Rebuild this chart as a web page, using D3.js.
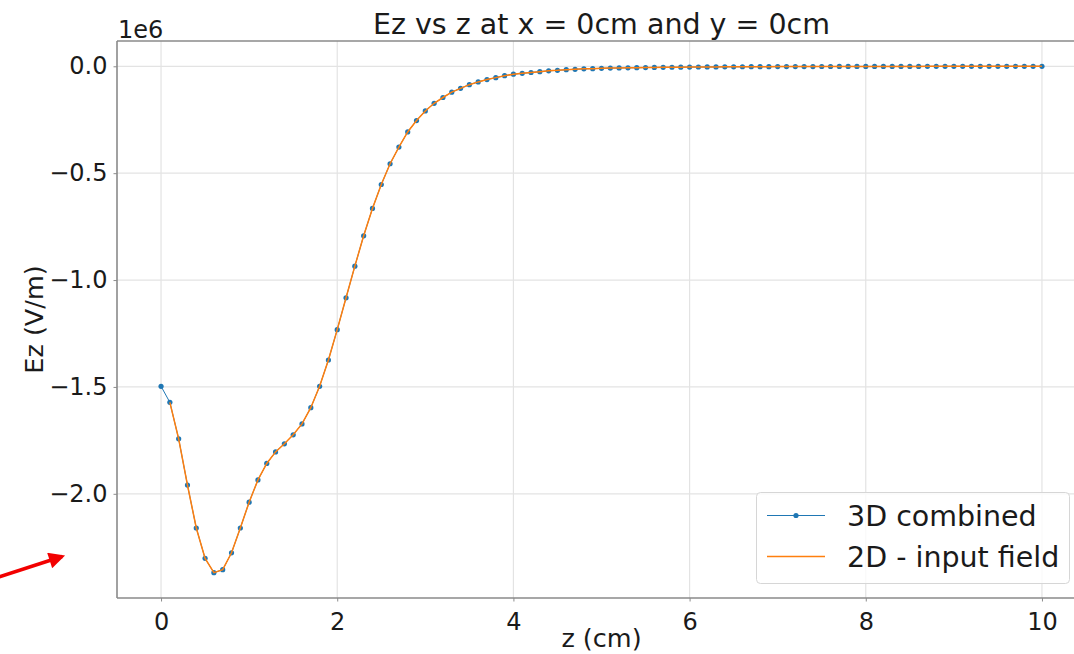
<!DOCTYPE html>
<html>
<head>
<meta charset="utf-8">
<script src="https://cdn.jsdelivr.net/npm/d3@7"></script>
<style>
  html, body { margin: 0; padding: 0; background: #fff; }
  svg { display: block; font-family: "DejaVu Sans", sans-serif; }
</style>
</head>
<body>
<svg id="chart" width="1074" height="654"></svg>
<script>
// Longitudinal field Ez along the axis (x = 0, y = 0); values in units of 1e6 V/m.
const zCombined = [
  0.0, 0.1, 0.2, 0.3, 0.4, 0.5, 0.6, 0.7, 0.8, 0.9,
  1.0, 1.1, 1.2, 1.3, 1.4, 1.5, 1.6, 1.7, 1.8, 1.9,
  2.0, 2.1, 2.2, 2.3, 2.4, 2.5, 2.6, 2.7, 2.8, 2.9,
  3.0, 3.1, 3.2, 3.3, 3.4, 3.5, 3.6, 3.7, 3.8, 3.9,
  4.0, 4.1, 4.2, 4.3, 4.4, 4.5, 4.6, 4.7, 4.8, 4.9,
  5.0, 5.1, 5.2, 5.3, 5.4, 5.5, 5.6, 5.7, 5.8, 5.9,
  6.0, 6.1, 6.2, 6.3, 6.4, 6.5, 6.6, 6.7, 6.8, 6.9,
  7.0, 7.1, 7.2, 7.3, 7.4, 7.5, 7.6, 7.7, 7.8, 7.9,
  8.0, 8.1, 8.2, 8.3, 8.4, 8.5, 8.6, 8.7, 8.8, 8.9,
  9.0, 9.1, 9.2, 9.3, 9.4, 9.5, 9.6, 9.7, 9.8, 9.9,
  10.0
];
const ezCombined = [
  -1.497, -1.572, -1.743, -1.959, -2.160, -2.302, -2.369, -2.355, -2.276, -2.160,
  -2.039, -1.935, -1.858, -1.804, -1.766, -1.724, -1.673, -1.597, -1.497, -1.374,
  -1.232, -1.083, -0.935, -0.793, -0.665, -0.553, -0.456, -0.378, -0.307, -0.254,
  -0.209, -0.173, -0.146, -0.121, -0.103, -0.086, -0.073, -0.062, -0.053, -0.044,
  -0.037, -0.033, -0.029, -0.025, -0.021, -0.019, -0.016, -0.014, -0.012, -0.011,
  -0.0093, -0.0085, -0.0078, -0.0071, -0.0065, -0.0059, -0.0054, -0.0049, -0.0045, -0.0041,
  -0.0037, -0.0034, -0.0031, -0.0028, -0.0026, -0.0024, -0.0022, -0.0020, -0.0018, -0.0016,
  -0.0015, -0.0014, -0.0013, -0.0012, -0.0011, -0.0010, -0.0009, -0.0008, -0.0008, -0.0007,
  -0.0006, -0.0006, -0.0005, -0.0005, -0.0004, -0.0004, -0.0004, -0.0003, -0.0003, -0.0003,
  -0.0002, -0.0002, -0.0002, -0.0002, -0.0002, -0.0002, -0.0001, -0.0001, -0.0001, -0.0001,
  -0.0001
];
const zInput = [
  0.1, 0.2, 0.3, 0.4, 0.5, 0.6, 0.7, 0.8, 0.9,
  1.0, 1.1, 1.2, 1.3, 1.4, 1.5, 1.6, 1.7, 1.8, 1.9,
  2.0, 2.1, 2.2, 2.3, 2.4, 2.5, 2.6, 2.7, 2.8, 2.9,
  3.0, 3.1, 3.2, 3.3, 3.4, 3.5, 3.6, 3.7, 3.8, 3.9,
  4.0, 4.1, 4.2, 4.3, 4.4, 4.5, 4.6, 4.7, 4.8, 4.9,
  5.0, 5.1, 5.2, 5.3, 5.4, 5.5, 5.6, 5.7, 5.8, 5.9,
  6.0, 6.1, 6.2, 6.3, 6.4, 6.5, 6.6, 6.7, 6.8, 6.9,
  7.0, 7.1, 7.2, 7.3, 7.4, 7.5, 7.6, 7.7, 7.8, 7.9,
  8.0, 8.1, 8.2, 8.3, 8.4, 8.5, 8.6, 8.7, 8.8, 8.9,
  9.0, 9.1, 9.2, 9.3, 9.4, 9.5, 9.6, 9.7, 9.8, 9.9,
  10.0
];
const ezInput = [
  -1.572, -1.743, -1.959, -2.160, -2.302, -2.369, -2.355, -2.276, -2.160,
  -2.039, -1.935, -1.858, -1.804, -1.766, -1.724, -1.673, -1.597, -1.497, -1.374,
  -1.232, -1.083, -0.935, -0.793, -0.665, -0.553, -0.456, -0.378, -0.307, -0.254,
  -0.209, -0.173, -0.146, -0.121, -0.103, -0.086, -0.073, -0.062, -0.053, -0.044,
  -0.037, -0.033, -0.029, -0.025, -0.021, -0.019, -0.016, -0.014, -0.012, -0.011,
  -0.0093, -0.0085, -0.0078, -0.0071, -0.0065, -0.0059, -0.0054, -0.0049, -0.0045, -0.0041,
  -0.0037, -0.0034, -0.0031, -0.0028, -0.0026, -0.0024, -0.0022, -0.0020, -0.0018, -0.0016,
  -0.0015, -0.0014, -0.0013, -0.0012, -0.0011, -0.0010, -0.0009, -0.0008, -0.0008, -0.0007,
  -0.0006, -0.0006, -0.0005, -0.0005, -0.0004, -0.0004, -0.0004, -0.0003, -0.0003, -0.0003,
  -0.0002, -0.0002, -0.0002, -0.0002, -0.0002, -0.0002, -0.0001, -0.0001, -0.0001, -0.0001,
  -0.0001
];
const xTicks = [0, 2, 4, 6, 8, 10];
const yTicks = [0, -0.5, -1.0, -1.5, -2.0];
const seriesNames = ["3D combined", "2D - input field"];

const C_BLUE = "#1f77b4", C_ORANGE = "#ff7f0e";
const svg = d3.select("#chart");

// plot area (right edge runs past the canvas)
const L = 117, R = 1086, T = 41, B = 598;

const pad = (lo, hi) => { const m = (hi - lo) * 0.05; return [lo - m, hi + m]; };
const xDom = pad(d3.min(zCombined), d3.max(zCombined));
const allY = ezCombined.concat(ezInput);
const yDom = pad(d3.min(allY), d3.max(allY));

const x = d3.scaleLinear().domain(xDom).range([L, R]);
const y = d3.scaleLinear().domain(yDom).range([B, T]);

const fmtY = v => (v < 0 ? "\u2212" : "") + Math.abs(v).toFixed(1);

// grid
const grid = svg.append("g");
grid.selectAll("line.gx").data(xTicks).join("line")
  .attr("x1", d => x(d)).attr("x2", d => x(d)).attr("y1", T).attr("y2", B)
  .attr("stroke", "#e3e3e3").attr("stroke-width", 1.2);
grid.selectAll("line.gy").data(yTicks).join("line")
  .attr("x1", L).attr("x2", R).attr("y1", d => y(d)).attr("y2", d => y(d))
  .attr("stroke", "#e3e3e3").attr("stroke-width", 1.2);

// axes
const xAxis = svg.append("g").attr("transform", `translate(0,${B})`)
  .call(d3.axisBottom(x).tickValues(xTicks).tickFormat(d3.format("d")).tickSizeOuter(0).tickSize(3.5).tickPadding(6));
const yAxis = svg.append("g").attr("transform", `translate(${L},0)`)
  .call(d3.axisLeft(y).tickValues(yTicks).tickFormat(fmtY).tickSizeOuter(0).tickSize(3.5).tickPadding(6));
[xAxis, yAxis].forEach(a => {
  a.select(".domain").remove();
  a.selectAll(".tick line").attr("stroke", "#8c8c8c").attr("stroke-width", 1);
  a.selectAll(".tick text").attr("fill", "#1a1a1a")
    .style("font-family", "'DejaVu Sans', sans-serif").style("font-size", "24px");
});
xAxis.selectAll(".tick text").attr("dy", "0.93em");

// spines: left, bottom, top
const spine = svg.append("g").attr("stroke", "#8a8a8a").attr("stroke-width", 1.6).attr("fill", "none");
spine.append("line").attr("x1", L).attr("x2", L).attr("y1", T).attr("y2", B);
spine.append("line").attr("x1", L).attr("x2", R).attr("y1", B).attr("y2", B);
spine.append("line").attr("x1", L).attr("x2", R).attr("y1", T).attr("y2", T);

// series
const lineGen = d3.line().x(d => x(d[0])).y(d => y(d[1]));
const combined = d3.zip(zCombined, ezCombined);
const input = d3.zip(zInput, ezInput);

svg.append("path").datum(combined).attr("d", lineGen)
  .attr("fill", "none").attr("stroke", C_BLUE).attr("stroke-width", 1);
svg.append("g").selectAll("circle").data(combined).join("circle")
  .attr("cx", d => x(d[0])).attr("cy", d => y(d[1])).attr("r", 2.6)
  .attr("fill", C_BLUE);
svg.append("path").datum(input).attr("d", lineGen)
  .attr("fill", "none").attr("stroke", C_ORANGE).attr("stroke-width", 1.5);

// offset text, title and axis labels
svg.append("text").attr("x", L + 1).attr("y", 38).attr("font-size", 24).attr("fill", "#1a1a1a").text("1e6");
svg.append("text").attr("x", (L + R) / 2).attr("y", 34).attr("text-anchor", "middle")
  .attr("font-size", 28.5).attr("fill", "#1a1a1a").text("Ez vs z at x = 0cm and y = 0cm");
svg.append("text").attr("x", (L + R) / 2).attr("y", 647).attr("text-anchor", "middle")
  .attr("font-size", 25.5).attr("fill", "#1a1a1a").text("z (cm)");
svg.append("text").attr("transform", `translate(43,${(T + B) / 2}) rotate(-90)`)
  .attr("text-anchor", "middle").attr("font-size", 25.5).attr("fill", "#1a1a1a").text("Ez (V/m)");

// legend
const lg = svg.append("g");
lg.append("rect").attr("x", 756.5).attr("y", 492.5).attr("width", 313).attr("height", 91)
  .attr("rx", 4).attr("fill", "#fff").attr("fill-opacity", 0.8)
  .attr("stroke", "#d6d6d6").attr("stroke-width", 1);
const rows = [
  { name: seriesNames[0], color: C_BLUE, w: 1, dot: true, cy: 515.5 },
  { name: seriesNames[1], color: C_ORANGE, w: 1.5, dot: false, cy: 556.5 }
];
rows.forEach(r => {
  lg.append("line").attr("x1", 767).attr("x2", 825).attr("y1", r.cy).attr("y2", r.cy)
    .attr("stroke", r.color).attr("stroke-width", r.w);
  if (r.dot) lg.append("circle").attr("cx", 796).attr("cy", r.cy).attr("r", 2.6).attr("fill", r.color);
  lg.append("text").attr("x", 847).attr("y", r.cy + 10).attr("font-size", 28.5)
    .attr("fill", "#1a1a1a").text(r.name);
});

// red pointer arrow at the lower left
const defs = svg.append("defs");
defs.append("marker").attr("id", "ahead").attr("viewBox", "0 0 10 10")
  .attr("refX", 8).attr("refY", 5).attr("markerWidth", 5).attr("markerHeight", 4.5)
  .attr("orient", "auto").attr("markerUnits", "strokeWidth")
  .append("path").attr("d", "M0,0 L10,5 L0,10 Z").attr("fill", "#f20000");
svg.append("line").attr("x1", -4).attr("y1", 578).attr("x2", 62).attr("y2", 556.5)
  .attr("stroke", "#f20000").attr("stroke-width", 3.6).attr("marker-end", "url(#ahead)");
</script>
</body>
</html>
